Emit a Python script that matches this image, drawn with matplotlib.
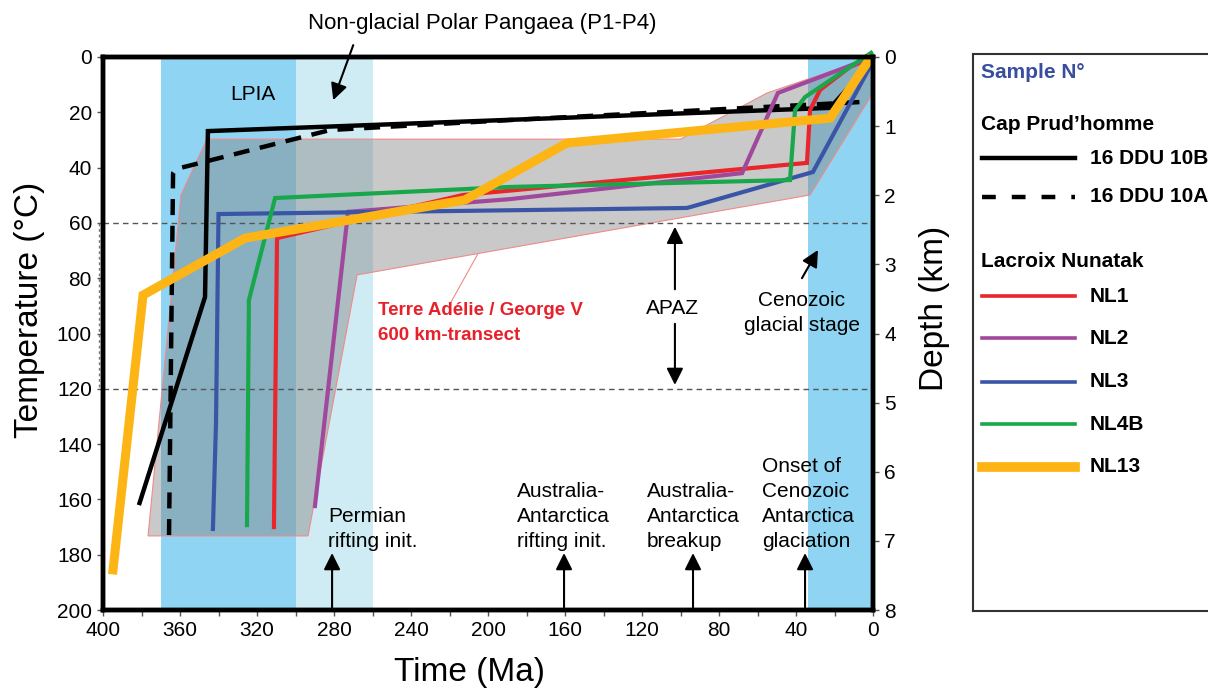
import matplotlib.pyplot as plt
from matplotlib.patches import Polygon
from matplotlib.lines import Line2D

plt.rcParams['font.family'] = ['Liberation Sans', 'DejaVu Sans']

# time-temperature paths (Ma, degC)
ddu10b_ma = [381, 347, 345.5, 22.3, 6.8, 0]
ddu10b_t = [161.3, 86.8, 26.8, 18.4, 6.5, 0]
ddu10a_ma = [365.7, 363.6, 362, 282, 188.6, 6.8]
ddu10a_t = [172.9, 42, 40.5, 26.4, 22.8, 16.3]
nl1_ma = [311.2, 309.6, 213, 34.3, 32.7, 27.5, 12, 0]
nl1_t = [170, 65.5, 49.9, 38.3, 19.2, 11.9, 3.6, 0]
nl2_ma = [289.9, 272.7, 188.6, 68, 49.4, 0]
nl2_t = [162.4, 56, 51.4, 42, 13, 0]
nl3_ma = [342.9, 341.3, 340, 96.6, 31.2, 1.6, 0]
nl3_t = [170.7, 132.4, 56.8, 54.6, 41.6, 3.6, 0]
nl4b_ma = [325.2, 324.2, 310.6, 188.6, 43.1, 40.5, 35.3, 1]
nl4b_t = [169.3, 87.9, 51, 47, 44.5, 19.2, 14.5, -1.5]
nl13_ma = [394.8, 379.2, 326.2, 212, 159, 22.3, 2]
nl13_t = [185.5, 86.1, 65.5, 51.7, 31.1, 22.1, 1]

# Terre Adelie / George V envelope
env_ma = [0, 0, 32.7, 268, 293.5, 376.6, 359.5, 346, 100, 55]
env_t = [0, 13, 49.9, 78.8, 173.2, 173.2, 49.9, 29.7, 29.7, 13]

# shaded periods (Ma)
lpia = [370, 300]
pangaea = [300, 260]
cenozoic = [34, 0]
apaz = [60, 120]

event_ma = [281, 160.5, 93.5, 35.3]
event_labels = ["Permian\nrifting init.", "Australia-\nAntarctica\nrifting init.",
                "Australia-\nAntarctica\nbreakup", "Onset of\nCenozoic\nAntarctica\nglaciation"]

cap_names = ["16 DDU 10B", "16 DDU 10A"]
nl_names = ["NL1", "NL2", "NL3", "NL4B", "NL13"]
nl_colors = ["#e8262b", "#a0489c", "#3b55a6", "#18a84b", "#fdb515"]
nl_widths = [3, 3, 3, 3, 6.5]
nl_paths = [(nl1_ma, nl1_t), (nl2_ma, nl2_t), (nl3_ma, nl3_t), (nl4b_ma, nl4b_t), (nl13_ma, nl13_t)]

W, H = 1208, 690
fig = plt.figure(figsize=(W / 100, H / 100), dpi=100)
ax = fig.add_axes([103 / W, 1 - 610 / H, 770 / W, 553 / H])

ax.axvspan(*lpia, color="#8fd4f2", lw=0, zorder=0)
ax.axvspan(*pangaea, color="#cfebf3", lw=0, zorder=0)
ax.axvspan(*cenozoic, color="#8fd4f2", lw=0, zorder=0)

ax.add_patch(Polygon(list(zip(env_ma, env_t)), closed=True, facecolor="#7f7f7f",
                     alpha=0.42, edgecolor="none", zorder=1))
ax.add_patch(Polygon(list(zip(env_ma, env_t)), closed=True, facecolor="none",
                     edgecolor="#f08a8a", lw=0.8, zorder=1.1))

for t in apaz:
    ax.axhline(t, color="#555555", lw=1, ls=(0, (4, 3)), zorder=2)
ax.plot([402, 402], apaz, color="#777777", lw=1, ls=(0, (2, 2)), clip_on=False, zorder=2)

ax.plot(ddu10b_ma, ddu10b_t, color="k", lw=3.2, zorder=3, solid_joinstyle="miter")
ax.plot(ddu10a_ma, ddu10a_t, color="k", lw=3.2, zorder=3, dashes=(3.6, 2.4))
for (ma, t), c, w in zip(nl_paths, nl_colors, nl_widths):
    ax.plot(ma, t, color=c, lw=w, zorder=4, clip_on=False, solid_joinstyle="miter")

ax.set_xlim(400, 0)
ax.set_ylim(200, 0)
ax.set_xticks(range(0, 401, 40))
ax.set_xticks(range(20, 400, 40), minor=True)
ax.set_yticks(range(0, 201, 20))
ax.tick_params(which="both", direction="out", length=4, width=1, color="#555555",
               labelsize=15, pad=4)
for s in ax.spines.values():
    s.set_linewidth(3.2)
    s.set_zorder(6)

ax2 = ax.twinx()
ax2.set_ylim(8, 0)
ax2.set_yticks(range(0, 9))
ax2.tick_params(direction="out", length=4, width=1, color="#555555", labelsize=15, pad=4)
for s in ax2.spines.values():
    s.set_linewidth(3.2)

fig.text(30 / W, 1 - 310 / H, "Temperature (°C)", rotation=90, fontsize=24, ha="center", va="center")
fig.text(470 / W, 1 - 673 / H, "Time (Ma)", fontsize=24, ha="center", va="center")
fig.text(935 / W, 1 - 308 / H, "Depth (km)", rotation=90, fontsize=24, ha="center", va="center")

arrow = dict(arrowstyle="-|>", color="k", lw=1.5, mutation_scale=25, shrinkA=0, shrinkB=0)

fig.text(482 / W, 1 - 23 / H, "Non-glacial Polar Pangaea (P1-P4)", fontsize=16, ha="center", va="center")
ax.annotate("", xy=(280.4, 15.6), xytext=(270, -4.3), arrowprops=arrow, annotation_clip=False, zorder=7)
ax.text(322, 13.7, "LPIA", fontsize=15, ha="center", va="center", zorder=5)

ax.text(256.9, 96.2, "Terre Adélie / George V\n600 km-transect", color="#e8202a", fontsize=13.5,
        fontweight="bold", ha="left", va="center", linespacing=1.55, zorder=5)
ax.plot([219.5, 205.5], [89, 71.5], color="#f08a8a", lw=0.8, zorder=1.1)

ax.text(104.4, 90.8, "APAZ", fontsize=15, ha="center", va="center", zorder=5)
ax.annotate("", xy=(102.9, 61.4), xytext=(102.9, 84), arrowprops=arrow, zorder=5)
ax.annotate("", xy=(102.9, 118.6), xytext=(102.9, 96.5), arrowprops=arrow, zorder=5)

ax.text(36.9, 92.6, "Cenozoic\nglacial stage", fontsize=15, ha="center", va="center",
        linespacing=1.4, zorder=5)
ax.annotate("", xy=(28.6, 69.8), xytext=(36.9, 80), arrowprops=arrow, zorder=5)

text_left = [283, 185, 117.4, 57.7]
for ma, lab, tx in zip(event_ma, event_labels, text_left):
    ax.annotate("", xy=(ma, 179.4), xytext=(ma, 199), arrowprops=arrow, zorder=5)
    ax.text(tx, 178.5, lab, fontsize=15, ha="left", va="bottom", linespacing=1.4, zorder=5)

# legend panel, in pixel coordinates
lax = fig.add_axes([972.7 / W, 1 - 610.7 / H, 0.3, 556.7 / H])
lax.set_xlim(972.7, 972.7 + 0.3 * W)
lax.set_ylim(610.7, 54)
lax.set_xticks([])
lax.set_yticks([])
for s in lax.spines.values():
    s.set_linewidth(1.5)
    s.set_color("#333333")

lax.text(981, 72, "Sample N°", color="#3a4ea0", fontsize=15, fontweight="bold", va="center")
lax.text(981, 125, "Cap Prud\u2019homme", fontsize=15, fontweight="bold", va="center")
lax.text(981, 261.7, "Lacroix Nunatak", fontsize=15, fontweight="bold", va="center")

cap_y = [158.3, 196.7]
lax.add_line(Line2D([981.7, 1075], [cap_y[0]] * 2, color="k", lw=3.2))
lax.add_line(Line2D([981.7, 1075], [cap_y[1]] * 2, color="k", lw=3.2, dashes=(3.1, 3.6)))
for y, name in zip(cap_y, cap_names):
    lax.text(1090, y, name, fontsize=15, fontweight="bold", va="center")

nl_y = [296, 338.3, 381.7, 424, 466.7]
for y, name, c, w in zip(nl_y, nl_names, nl_colors, nl_widths):
    lax.add_line(Line2D([981.7, 1075], [y, y], color=c, lw=2.6 if w < 5 else 7))
    lax.text(1090, y, name, fontsize=15, fontweight="bold", va="center")

fig.savefig("out.png", dpi=100)
